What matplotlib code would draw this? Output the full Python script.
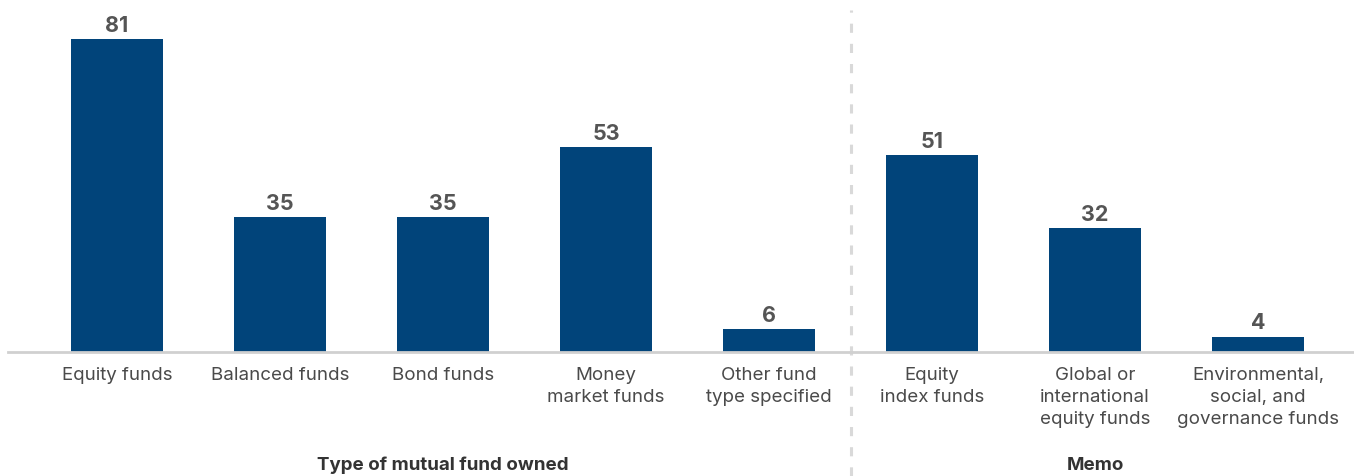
import matplotlib.pyplot as plt

plt.rcParams['font.family'] = ['Inter', 'DejaVu Sans']

OUTPUT = "out.png"
CATEGORIES = [
    "Equity funds",
    "Balanced funds",
    "Bond funds",
    "Money\nmarket funds",
    "Other fund\ntype specified",
    "Equity\nindex funds",
    "Global or\ninternational\nequity funds",
    "Environmental,\nsocial, and\ngovernance funds",
]
VALUES = [81, 35, 35, 53, 6, 51, 32, 4]
GROUPS = ["Type of mutual fund owned", "Memo"]
GROUP_CENTERS = [2, 6]

BAR_COLOR = "#01447a"
VALUE_COLOR = "#555555"
LABEL_COLOR = "#4a4a4a"

W, H = 1354, 477
fig = plt.figure(figsize=(W / 100, H / 100), dpi=100)

# axes box in pixel units: baseline at y=353, left edge at x=8
base_y = 353
ax = fig.add_axes([8 / W, (H - base_y) / H, (W - 8) / W, base_y / H])

px_per_unit = 3.864
slot = 163.0
ax.set_ylim(0, base_y / px_per_unit)
ax.set_xlim(-(117 - 8) / slot, (W - 117) / slot)

x = list(range(len(VALUES)))
ax.bar(x, VALUES, width=92 / slot, color=BAR_COLOR, zorder=2)

for xi, v in zip(x, VALUES):
    ax.annotate(str(v), (xi, v), xytext=(0, 3), textcoords="offset points",
                ha="center", va="bottom", fontsize=15.5, fontweight="bold",
                color=VALUE_COLOR)

for s in ["top", "right", "left"]:
    ax.spines[s].set_visible(False)
ax.spines["bottom"].set_color("#d0d0d0")
ax.spines["bottom"].set_linewidth(2)
ax.set_yticks([])
ax.set_xticks(x)
ax.set_xticklabels(CATEGORIES, fontsize=13.5, color=LABEL_COLOR,
                   linespacing=1.38)
ax.tick_params(axis="x", length=0, pad=10)

# dashed divider between the two groups
ax.axvline(4.5, ymin=-(H - base_y) / base_y, ymax=(base_y - 11) / base_y,
           color="#d9d9d9", linewidth=2.2, linestyle=(0, (3, 3.6)),
           clip_on=False, zorder=1)

for name, cx in zip(GROUPS, GROUP_CENTERS):
    ax.text(cx, -(465 - base_y) / px_per_unit, name, ha="center", va="center",
            fontsize=13.5, fontweight="bold", color="#333333")

fig.savefig(OUTPUT, dpi=100)
